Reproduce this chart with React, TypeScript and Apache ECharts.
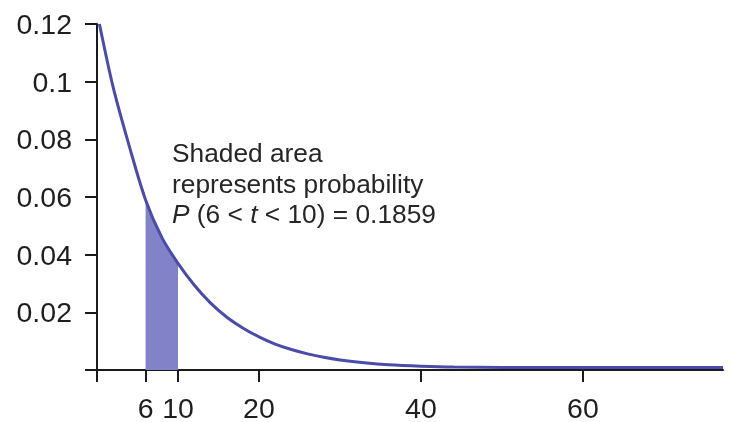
import React, { useEffect, useRef } from "react";
import * as echarts from "echarts";

const curveX = [0.3, 2, 4, 6, 8, 10, 12, 14, 16, 18, 20, 22, 24, 26, 28, 30, 33, 36, 40, 44, 50, 60, 77.3];
const curveY = [0.12, 0.098, 0.0775, 0.059, 0.046, 0.037, 0.0295, 0.0233, 0.0184, 0.0146, 0.0115, 0.009, 0.0071, 0.0056, 0.0044, 0.0035, 0.0025, 0.0018, 0.0013, 0.001, 0.0009, 0.0009, 0.0009];
const shadeFrom = 6;
const shadeTo = 10;
const xTickValues = [0, 6, 10, 20, 40, 60];
const xLabelValues = [6, 10, 20, 40, 60];
const annotationLines = ["Shaded area", "represents probability", "{i|P} (6 < {i|t} < 10) = 0.1859"];

const FONT = "'Liberation Sans', Arial, Helvetica, sans-serif";

export default function App() {
  const ref = useRef<HTMLDivElement>(null);
  useEffect(() => {
    if (!ref.current) return;
    const chart = echarts.init(ref.current, undefined, { renderer: "svg" });
    const curve = curveX.map((x, i) => [x, curveY[i]]);
    const shade = curve.filter((p) => p[0] >= shadeFrom && p[0] <= shadeTo);
    chart.setOption({
      animation: false,
      grid: { left: 97, top: 24, width: 626, height: 346, containLabel: false },
      xAxis: {
        type: "value",
        min: 0,
        max: 77.3,
        splitLine: { show: false },
        axisLine: { show: true, onZero: true, lineStyle: { color: "#1a1a1a", width: 2 } },
        axisTick: { show: true, customValues: xTickValues, length: 12, lineStyle: { color: "#1a1a1a", width: 2 } },
        axisLabel: {
          customValues: xLabelValues,
          fontSize: 28.5,
          fontFamily: FONT,
          color: "#1e1e1e",
          margin: 23,
        },
      },
      yAxis: {
        type: "value",
        min: 0,
        max: 0.12,
        interval: 0.02,
        splitLine: { show: false },
        axisLine: { show: true, onZero: false, lineStyle: { color: "#1a1a1a", width: 2 } },
        axisTick: { show: true, length: 12, lineStyle: { color: "#1a1a1a", width: 2 } },
        axisLabel: {
          fontSize: 28.5,
          fontFamily: FONT,
          color: "#1e1e1e",
          margin: 25,
          formatter: (v: number) => (v === 0 ? "" : String(+v.toFixed(2))),
        },
      },
      series: [
        {
          type: "line",
          data: shade,
          smooth: 0.3,
          showSymbol: false,
          symbol: "none",
          lineStyle: { width: 0 },
          areaStyle: { color: "#8282c8", opacity: 1 },
          z: 2,
        },
        {
          type: "line",
          data: curve,
          smooth: 0.3,
          showSymbol: false,
          symbol: "none",
          lineStyle: { color: "#4b4baa", width: 3 },
          z: 3,
        },
      ],
      graphic: [
        {
          type: "text",
          left: 172,
          top: 138,
          z: 10,
          style: {
            text: annotationLines.join("\n"),
            fontSize: 26.3,
            fontFamily: FONT,
            fill: "#262626",
            lineHeight: 30.5,
            rich: {
              i: {
                fontSize: 26.3,
                fontFamily: FONT,
                fontStyle: "italic",
                fill: "#262626",
                lineHeight: 30.5,
              },
            },
          },
        },
      ],
    });
    return () => chart.dispose();
  }, []);
  return <div ref={ref} style={{ position: "fixed", left: 0, top: 0, width: 733, height: 422 }} />;
}
